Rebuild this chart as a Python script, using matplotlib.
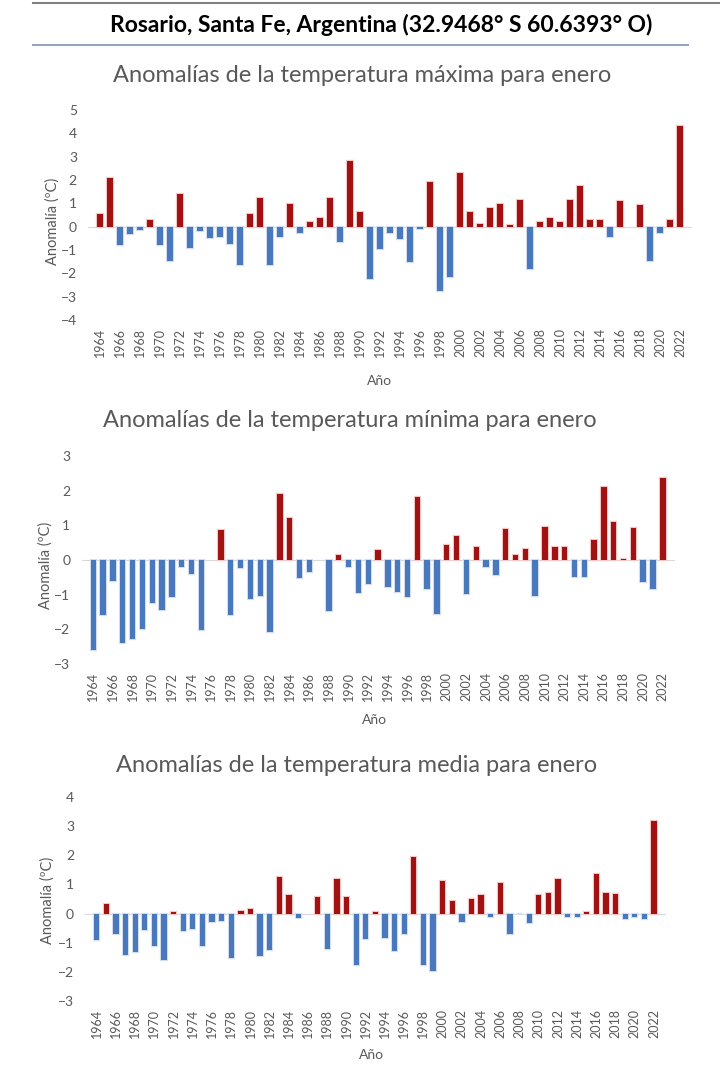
import matplotlib
matplotlib.use("Agg")
import matplotlib.pyplot as plt
import matplotlib.patheffects as pe
from matplotlib.lines import Line2D

# Datos: anomalías de enero en Rosario (ºC)
years = list(range(1964, 2023))
tick_years = [str(y) for y in range(1964, 2023, 2)]

tmax = [0.55, 2.1, -0.8, -0.3, -0.15, 0.3, -0.8, -1.45, 1.4, -0.9,
        -0.2, -0.5, -0.45, -0.75, -1.65, 0.55, 1.25, -1.65, -0.45, 0.97,
        -0.28, 0.2, 0.37, 1.25, -0.67, 2.83, 0.65, -2.25, -0.95, -0.28,
        -0.53, -1.53, -0.12, 1.9, -2.75, -2.15, 2.3, 0.65, 0.1, 0.8,
        0.97, 0.07, 1.15, -1.8, 0.2, 0.37, 0.2, 1.15, 1.75, 0.27,
        0.27, -0.45, 1.1, 0.0, 0.93, -1.45, -0.28, 0.3, 4.33]

tmin = [-2.6, -1.6, -0.6, -2.4, -2.27, -1.98, -1.23, -1.44, -1.07, -0.2,
        -0.41, -2.02, 0.0, 0.87, -1.59, -0.24, -1.13, -1.04, -2.07, 1.89,
        1.22, -0.53, -0.35, 0.0, -1.47, 0.13, -0.2, -0.96, -0.7, 0.29,
        -0.77, -0.92, -1.06, 1.83, -0.83, -1.57, 0.44, 0.69, -0.99, 0.37,
        -0.2, -0.44, 0.88, 0.14, 0.31, -1.04, 0.95, 0.37, 0.37, -0.48,
        -0.48, 0.58, 2.1, 1.09, 0.04, 0.92, -0.63, -0.84, 2.37]

tmed = [-0.92, 0.34, -0.69, -1.41, -1.33, -0.57, -1.12, -1.58, 0.04, -0.61,
        -0.53, -1.12, -0.3, -0.25, -1.52, 0.08, 0.17, -1.44, -1.26, 1.26,
        0.63, -0.15, 0.0, 0.56, -1.23, 1.19, 0.56, -1.75, -0.87, 0.04,
        -0.83, -1.29, -0.69, 1.94, -1.75, -1.98, 1.11, 0.42, -0.29, 0.51,
        0.65, -0.11, 1.05, -0.69, -0.03, -0.32, 0.63, 0.71, 1.19, -0.11,
        -0.11, 0.04, 1.37, 0.71, 0.67, -0.2, -0.11, -0.2, 3.17]

titles = ["Anomalías de la temperatura máxima para enero",
          "Anomalías de la temperatura mínima para enero",
          "Anomalías de la temperatura media para enero"]

RED = "#A31212"
BLUE = "#4A78BC"
GREY = "#595959"
W, H = 720, 1083

plt.rcParams["font.family"] = ["Lato", "DejaVu Sans"]

fig = plt.figure(figsize=(W / 100, H / 100), dpi=100)


def rect(left, top, right, bottom):
    return [left / W, 1 - bottom / H, (right - left) / W, (bottom - top) / H]


def panel(values, box, ylim, title, title_xy, ylab_xy, ano_xy):
    ax = fig.add_axes(rect(*box))
    x = list(range(len(years)))
    for i, v in zip(x, values):
        c = RED if v >= 0 else BLUE
        glow = "#F5C6C6" if v >= 0 else "#D2DEF0"
        b = ax.bar(i, v, width=0.55, color=c, zorder=3)
        if v != 0:
            b[0].set_path_effects([pe.Stroke(linewidth=1.6, foreground=glow), pe.Normal()])
    ax.axhline(0, color="#D9D9D9", lw=0.8, zorder=1)
    ax.set_xlim(-1.2, 59.2)
    ax.set_ylim(*ylim)
    ax.set_yticks(range(ylim[0], ylim[1] + 1))
    ax.set_xticks(range(0, len(years), 2))
    ax.set_xticklabels(tick_years, rotation=90)
    for s in ax.spines.values():
        s.set_visible(False)
    ax.tick_params(length=0, colors=GREY)
    ax.tick_params(axis="x", labelsize=9, pad=6)
    ax.tick_params(axis="y", labelsize=10, pad=8)
    fig.text(title_xy[0] / W, 1 - title_xy[1] / H, title, ha="center", va="center",
             fontsize=17, color=GREY)
    fig.text(ylab_xy[0] / W, 1 - ylab_xy[1] / H, "Anomalía (ºC)", rotation=90,
             ha="center", va="center", fontsize=10.5, color=GREY)
    fig.text(ano_xy[0] / W, 1 - ano_xy[1] / H, "Año", ha="center", va="center",
             fontsize=10, color=GREY)
    return ax


panel(tmax, (88, 110, 692, 320), (-4, 5), titles[0], (362, 75), (53, 221), (380, 381))
panel(tmin, (81.5, 456, 674.6, 664), (-3, 3), titles[1], (350, 420), (46, 565), (375, 720))
panel(tmed, (85.2, 797, 665.6, 1001), (-3, 4), titles[2], (357, 766), (48, 900), (372, 1055))

# Título principal y líneas
fig.text(381 / W, 1 - 25 / H, "Rosario, Santa Fe, Argentina (32.9468° S 60.6393° O)",
         ha="center", va="center", fontsize=16.5, fontweight="bold", color="black")
fig.add_artist(Line2D([33 / W, 1.0], [1 - 3 / H, 1 - 3 / H], color="#7F7F7F", lw=1.5))
fig.add_artist(Line2D([33 / W, 688 / W], [1 - 45 / H, 1 - 45 / H], color="#94A6BE", lw=1.5))

fig.savefig("out.png", dpi=100)
